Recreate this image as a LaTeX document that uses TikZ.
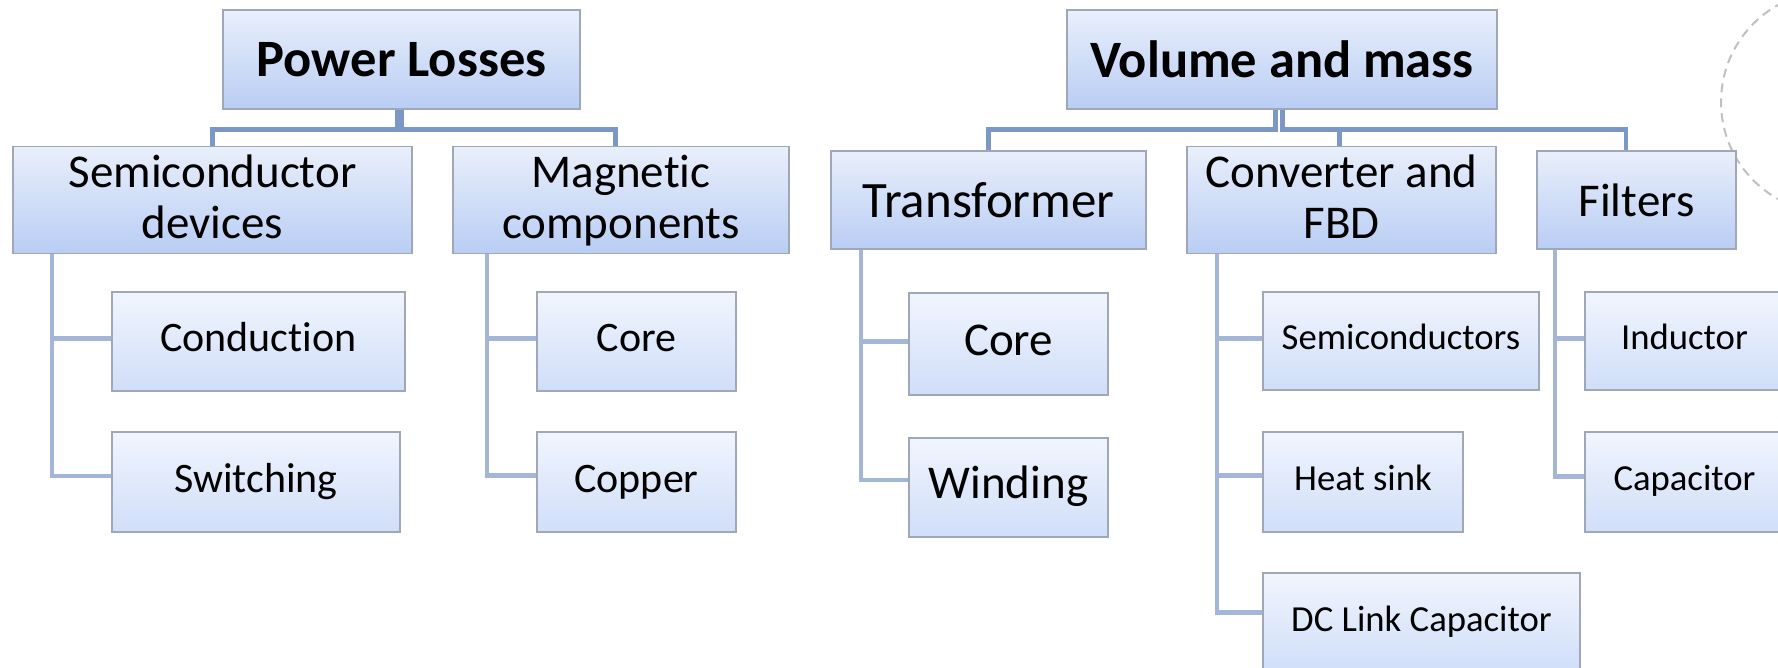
\documentclass[tikz,border=0pt]{standalone}
\usepackage{fontspec}
\setmainfont{Carlito}[Ligatures=NoCommon]
\definecolor{conA}{RGB}{122,151,200}
\definecolor{conB}{RGB}{164,182,215}
\definecolor{boxline}{RGB}{160,168,184}
\definecolor{topA}{RGB}{233,239,251}
\definecolor{botA}{RGB}{185,205,244}
\definecolor{topB}{RGB}{241,245,253}
\definecolor{botB}{RGB}{208,222,249}
\definecolor{arcgray}{RGB}{192,192,192}
\newcommand{\topstrut}{\rule{0pt}{40.7pt}}
\begin{document}
\begin{tikzpicture}[x=1pt,y=-1pt,
  box/.style={draw=boxline, line width=1.2pt, rectangle, inner sep=0pt, text=black, align=center},
  upper/.style={box, top color=topA, bottom color=botA},
  lower/.style={box, top color=topB, bottom color=botB},
  fone/.style={font=\fontsize{52.5}{63}\selectfont\bfseries},
  ftwo/.style={font=\fontsize{47}{51}\selectfont},
  ftr/.style={font=\fontsize{51}{61}\selectfont},
  fla/.style={font=\fontsize{42}{50}\selectfont},
  flb/.style={font=\fontsize{47}{56}\selectfont},
  flc/.style={font=\fontsize{36.7}{44}\selectfont},
  cA/.style={draw=conA, line width=4.8pt},
  cB/.style={draw=conB, line width=4.5pt}]
\useasboundingbox (0,0) rectangle (1778,667);
\clip (0,0) rectangle (1778,667);

% dashed arc at the top right
\draw[arcgray, line width=2pt, dash pattern=on 9pt off 6pt] (1832,102) circle[radius=111pt];

% level 1
\node[upper, fone, minimum width=357pt, minimum height=99pt] (pl) at (401.5,59.5) {Power Losses};
\node[upper, fone, minimum width=430pt, minimum height=99pt] (vm) at (1282,59.5) {Volume and mass};

% level 2
\node[upper, ftwo, minimum width=399pt, minimum height=98pt] (sd) at (212.5,200) {\topstrut Semiconductor\\\strut devices};
\node[upper, ftwo, minimum width=336pt, minimum height=98pt] (mc) at (621,200) {\topstrut Magnetic\\\strut components};
\node[upper, ftr, minimum width=315pt, minimum height=98pt] (tr) at (988.5,200) {Transformer};
\node[upper, ftwo, minimum width=309pt, minimum height=98pt] (cf) at (1341.5,200) {\topstrut Converter and\\\strut FBD};
\node[upper, ftwo, minimum width=199pt, minimum height=98pt] (fi) at (1636.5,200) {Filters};

% level 3
\node[lower, fla, minimum width=293pt, minimum height=99pt] (cond) at (258.5,341.5) {\strut Conduction};
\node[lower, fla, minimum width=288pt, minimum height=100pt] (sw) at (256,482) {\strut Switching};
\node[lower, fla, minimum width=199pt, minimum height=99pt] (corem) at (636.5,341.5) {\strut Core};
\node[lower, fla, minimum width=199pt, minimum height=100pt] (cop) at (636.5,482) {\strut Copper};
\node[lower, flb, minimum width=199pt, minimum height=102pt] (coret) at (1008.5,344) {\strut Core};
\node[lower, flb, minimum width=199pt, minimum height=99pt] (wind) at (1008.5,487.5) {\strut Winding};
\node[lower, flc, minimum width=276pt, minimum height=98pt] (semi) at (1401,341) {\strut Semiconductors};
\node[lower, flc, minimum width=200pt, minimum height=100pt] (heat) at (1363,482) {\strut Heat sink};
\node[lower, flc, minimum width=317pt, minimum height=99pt] (dcl) at (1421.5,622.5) {\strut DC Link Capacitor};
\node[lower, flc, minimum width=199pt, minimum height=98pt] (ind) at (1684.5,341) {\strut Inductor};
\node[lower, flc, minimum width=199pt, minimum height=100pt] (cap) at (1684.5,482) {\strut Capacitor};

% level 1 -> level 2 connectors
\draw[cA] ([xshift=-4.5pt]pl.south) -- ++(0,19.5) -| (sd.north);
\draw[cA] (pl.south) -- ++(0,19.5) -| ([xshift=-5.5pt]mc.north);
\draw[cA] ([xshift=-6.5pt]vm.south) -- ++(0,19.5) -| (tr.north);
\draw[cA] ([xshift=0.5pt]vm.south) -- ++(0,19.5) -| ([xshift=-2pt]cf.north);
\draw[cA] ([xshift=0.5pt]vm.south) -- ++(0,19.5) -| ([xshift=-10.5pt]fi.north);

% level 2 -> level 3 brackets
\draw[cB] ([xshift=39.5pt]sd.south west) |- ([yshift=3pt]cond.west);
\draw[cB] ([xshift=39.5pt]sd.south west) |- ([yshift=6pt]sw.west);
\draw[cB] ([xshift=34.5pt]mc.south west) |- ([yshift=3pt]corem.west);
\draw[cB] ([xshift=34.5pt]mc.south west) |- ([yshift=6.5pt]cop.west);
\draw[cB] ([xshift=30.5pt]tr.south west) |- ([yshift=2.5pt]coret.west);
\draw[cB] ([xshift=30.5pt]tr.south west) |- ([yshift=7.5pt]wind.west);
\draw[cB] ([xshift=30.5pt]cf.south west) |- ([yshift=2.5pt]semi.west);
\draw[cB] ([xshift=30.5pt]cf.south west) |- ([yshift=6.5pt]heat.west);
\draw[cB] ([xshift=30.5pt]cf.south west) |- ([yshift=10pt]dcl.west);
\draw[cB] ([xshift=18.5pt]fi.south west) |- ([yshift=2.5pt]ind.west);
\draw[cB] ([xshift=18.5pt]fi.south west) |- ([yshift=5.5pt]cap.west);
\end{tikzpicture}
\end{document}
